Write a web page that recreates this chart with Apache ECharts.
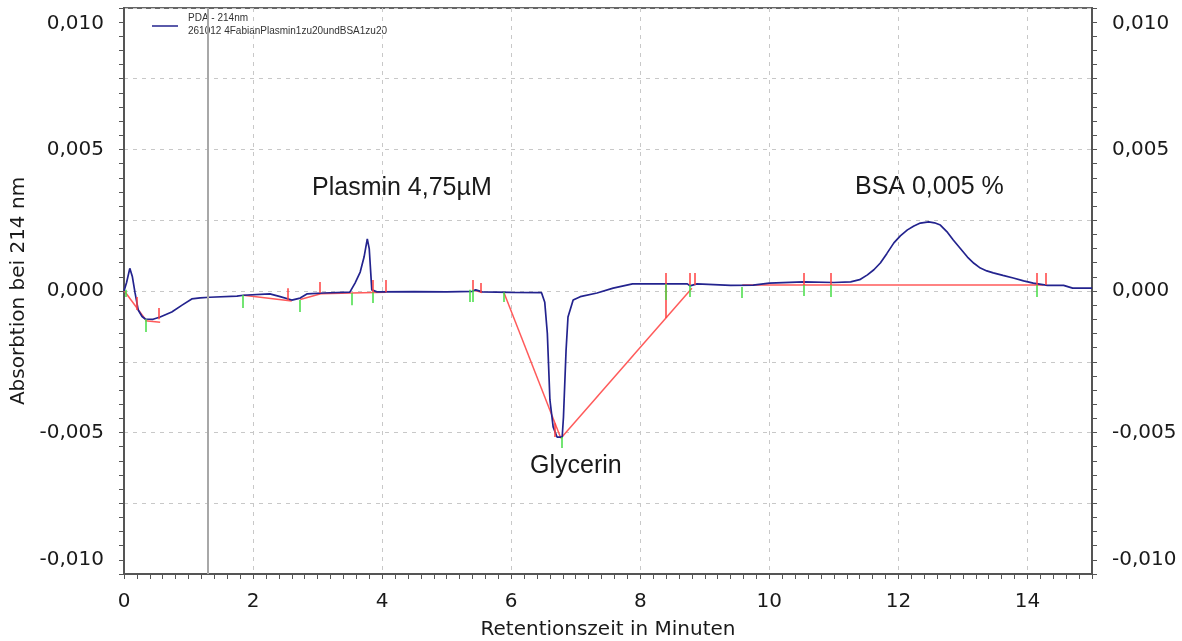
<!DOCTYPE html>
<html>
<head>
<meta charset="utf-8">
<title>PDA 214nm</title>
<script src="https://cdn.jsdelivr.net/npm/echarts@6/dist/echarts.min.js"></script>
<style>
    html, body { margin: 0; padding: 0; background: #fff; }
    #chart { width: 1182px; height: 641px; }
</style>
</head>
<body>
<div id="chart"></div>
<script>
// Chromatogramm-Daten (Zeit in min, Absorption)
var pdaTrace = [
    [0.00, 0.00000], [0.04, 0.00030], [0.09, 0.00080], [0.13, 0.00050], [0.17, -0.00005],
    [0.22, -0.00067], [0.28, -0.00090], [0.33, -0.00099], [0.45, -0.00100], [0.56, -0.00092],
    [0.74, -0.00074], [0.90, -0.00050], [1.05, -0.00028], [1.18, -0.00024], [1.33, -0.00022],
    [1.75, -0.00018], [1.85, -0.00015], [2.26, -0.00010], [2.42, -0.00020], [2.60, -0.00032],
    [2.73, -0.00025], [2.84, -0.00010], [3.09, -0.00007], [3.50, -0.00004], [3.58, 0.00028],
    [3.66, 0.00067], [3.72, 0.00120], [3.77, 0.00184], [3.80, 0.00150], [3.84, 0.00004],
    [3.92, -0.00003], [4.50, -0.00002], [5.00, -0.00003], [5.40, -0.00001], [5.45, 0.00004],
    [5.55, -0.00003], [6.00, -0.00005], [6.47, -0.00006], [6.52, -0.00040], [6.56, -0.00150],
    [6.60, -0.00385], [6.65, -0.00480], [6.71, -0.00516], [6.79, -0.00516], [6.81, -0.00445],
    [6.85, -0.00210], [6.88, -0.00092], [6.96, -0.00032], [7.07, -0.00020], [7.33, -0.00007],
    [7.58, 0.00010], [7.88, 0.00025], [8.36, 0.00025], [8.73, 0.00025], [8.77, 0.00018],
    [8.88, 0.00025], [9.40, 0.00020], [9.75, 0.00021], [10.00, 0.00028], [10.53, 0.00032],
    [11.00, 0.00030], [11.26, 0.00032], [11.40, 0.00040], [11.52, 0.00057], [11.62, 0.00075],
    [11.72, 0.00099], [11.82, 0.00132], [11.93, 0.00170], [12.03, 0.00195], [12.14, 0.00216],
    [12.24, 0.00230], [12.34, 0.00240], [12.47, 0.00244], [12.56, 0.00241], [12.65, 0.00233],
    [12.75, 0.00210], [12.85, 0.00180], [12.96, 0.00150], [13.07, 0.00120], [13.17, 0.00098],
    [13.27, 0.00081], [13.37, 0.00071], [13.47, 0.00064], [13.62, 0.00055], [13.78, 0.00046],
    [13.94, 0.00036], [14.09, 0.00028], [14.31, 0.00020], [14.56, 0.00020], [14.70, 0.00010],
    [15.00, 0.00010]
];

// Basislinien der Integration [t1, v1, t2, v2]
var baselines = [
    [0.00, 0.00002, 0.33, -0.00100],
    [0.33, -0.00105, 0.56, -0.00110],
    [1.85, -0.00015, 2.60, -0.00035],
    [2.73, -0.00030, 3.05, -0.00010],
    [3.05, -0.00010, 3.53, -0.00007],
    [3.53, -0.00007, 4.06, -0.00004],
    [5.40, 0.00004, 5.55, -0.00005],
    [5.89, -0.00007, 6.77, -0.00520],
    [6.77, -0.00520, 8.80, 0.00010],
    [9.58, 0.00021, 14.25, 0.00021]
];

// Peak-Ende (rot) [t, von, bis]
var endMarks = [
    [0.19, -0.00067, -0.00021], [0.54, -0.00100, -0.00060], [2.54, -0.00032, 0.00010],
    [3.04, -0.00007, 0.00032], [3.86, -0.00004, 0.00039], [4.06, -0.00004, 0.00039],
    [5.41, 0.00004, 0.00039], [5.53, -0.00007, 0.00028], [6.68, -0.00516, -0.00467],
    [8.39, -0.00095, 0.00064], [8.77, 0.00021, 0.00064], [8.85, 0.00021, 0.00064],
    [10.53, 0.00021, 0.00064], [10.95, 0.00021, 0.00064], [14.15, 0.00021, 0.00064],
    [14.28, 0.00021, 0.00064]
];

// Peak-Start (gruen) [t, von, bis]
var startMarks = [
    [0.02, 0.00004, -0.00021], [0.34, -0.00100, -0.00145], [1.84, -0.00014, -0.00060],
    [2.72, -0.00032, -0.00074], [3.53, -0.00007, -0.00050], [3.86, -0.00004, -0.00042],
    [5.35, 0.00004, -0.00039], [5.40, 0.00004, -0.00039], [5.89, -0.00004, -0.00039],
    [6.78, -0.00516, -0.00555], [8.39, 0.00025, -0.00032], [8.77, 0.00021, -0.00021],
    [9.58, 0.00014, -0.00025], [10.53, 0.00021, -0.00018], [10.95, 0.00021, -0.00021],
    [14.15, 0.00021, -0.00021]
];

var injectTime = 1.30;

function toSegments(list) {
    return list.map(function (s) {
        return { coords: [[s[0], s[1]], [s[2], s[3]]] };
    });
}
function toTicks(list) {
    return list.map(function (s) {
        return { coords: [[s[0], s[1]], [s[0], s[2]]] };
    });
}

function yLabel(v) {
    var k = v / 0.005;
    if (Math.abs(k - Math.round(k)) > 1e-6) return '';
    if (Math.abs(v) < 1e-9) return '0,000';
    var s = v.toFixed(3).replace('.', ',');
    if (v > 0.0099) return '{top|' + s + '}';
    if (v < -0.0099) return '{bot|' + s + '}';
    return s;
}

function xLabel(v) {
    return v > 14.5 ? '' : String(v);
}

var myChart = echarts.init(document.getElementById('chart'));

var yAxisBase = {
    type: 'value',
    min: -0.01,
    max: 0.01,
    interval: 0.0025,
    axisLine: { show: true, lineStyle: { color: '#555', width: 2 } },
    axisTick: { show: true, length: 5, lineStyle: { color: '#555' } },
    minorTick: { show: true, splitNumber: 5, length: 5, lineStyle: { color: '#555' } },
    axisLabel: {
        formatter: yLabel,
        color: '#1a1a1a',
        fontFamily: 'DejaVu Sans',
        fontSize: 20,
        margin: 20,
        verticalAlignMaxLabel: 'top',
        verticalAlignMinLabel: 'bottom',
        rich: {
            top: { fontFamily: 'DejaVu Sans', fontSize: 20, color: '#1a1a1a', lineHeight: 32 },
            bot: { fontFamily: 'DejaVu Sans', fontSize: 20, color: '#1a1a1a', lineHeight: 28 }
        }
    }
};

var option = {
    animation: false,
    grid: {
        left: 124, right: 90, top: 8, bottom: 67,
        outerBoundsMode: 'none',
        containLabel: false,
        show: true, borderColor: '#666', borderWidth: 2
    },
    xAxis: {
        type: 'value',
        min: 0,
        max: 15,
        interval: 2,
        name: 'Retentionszeit in Minuten',
        nameLocation: 'middle',
        nameGap: 46,
        nameTextStyle: { fontFamily: 'DejaVu Sans', fontSize: 20, color: '#1a1a1a' },
        axisLine: { show: true, onZero: false, lineStyle: { color: '#555', width: 2 } },
        axisTick: { show: true, length: 5, lineStyle: { color: '#555' } },
        minorTick: { show: true, splitNumber: 10, length: 5, lineStyle: { color: '#555' } },
        axisLabel: { formatter: xLabel, color: '#1a1a1a', fontFamily: 'DejaVu Sans', fontSize: 20, margin: 18 },
        splitLine: { show: true, lineStyle: { color: '#c8c8c8', type: [4, 5] } }
    },
    yAxis: [
        Object.assign({}, yAxisBase, {
            position: 'left',
            name: 'Absorbtion bei 214 nm',
            nameLocation: 'middle',
            nameGap: 90,
            nameTextStyle: { fontFamily: 'DejaVu Sans', fontSize: 20, color: '#1a1a1a' },
            splitLine: { show: true, lineStyle: { color: '#c8c8c8', type: [4, 5] } }
        }),
        Object.assign({}, yAxisBase, {
            position: 'right',
            splitLine: { show: false }
        })
    ],
    series: [
        {
            name: 'Basislinie',
            type: 'lines',
            coordinateSystem: 'cartesian2d',
            silent: true,
            lineStyle: { color: '#ff5a5a', width: 1.5, opacity: 1 },
            data: toSegments(baselines),
            z: 2
        },
        {
            name: 'PDA - 214nm',
            type: 'line',
            data: pdaTrace,
            showSymbol: false,
            lineStyle: { color: '#23238e', width: 1.7 },
            itemStyle: { color: '#23238e' },
            markLine: {
                silent: true,
                symbol: 'none',
                label: { show: false },
                lineStyle: { color: '#a8a8a8', width: 2, type: 'solid' },
                data: [{ xAxis: injectTime }]
            },
            z: 3
        },
        {
            name: 'Ende',
            type: 'lines',
            coordinateSystem: 'cartesian2d',
            silent: true,
            lineStyle: { color: '#ff4040', width: 1.5, opacity: 1 },
            data: toTicks(endMarks),
            z: 4
        },
        {
            name: 'Start',
            type: 'lines',
            coordinateSystem: 'cartesian2d',
            silent: true,
            lineStyle: { color: '#44dd44', width: 1.5, opacity: 1 },
            data: toTicks(startMarks),
            z: 5
        }
    ],
    graphic: [
        // Legende
        { type: 'line', shape: { x1: 152, y1: 26, x2: 178, y2: 26 }, style: { stroke: '#23238e', lineWidth: 1.5 } },
        { type: 'text', left: 188, top: 13, style: { text: 'PDA - 214nm', font: '10px "Liberation Sans"', fill: '#333' } },
        { type: 'text', left: 188, top: 26, style: { text: '261012 4FabianPlasmin1zu20undBSA1zu20', font: '10px "Liberation Sans"', fill: '#333' } },
        // Beschriftung der Peaks
        { type: 'text', left: 312, top: 176, style: { text: 'Plasmin 4,75\u00b5M', font: '25px "Liberation Sans"', fill: '#1a1a1a' } },
        { type: 'text', left: 855, top: 175, style: { text: 'BSA 0,005 %', font: '25px "Liberation Sans"', fill: '#1a1a1a' } },
        { type: 'text', left: 530, top: 454, style: { text: 'Glycerin', font: '25px "Liberation Sans"', fill: '#1a1a1a' } }
    ]
};

myChart.setOption(option);
</script>
</body>
</html>
